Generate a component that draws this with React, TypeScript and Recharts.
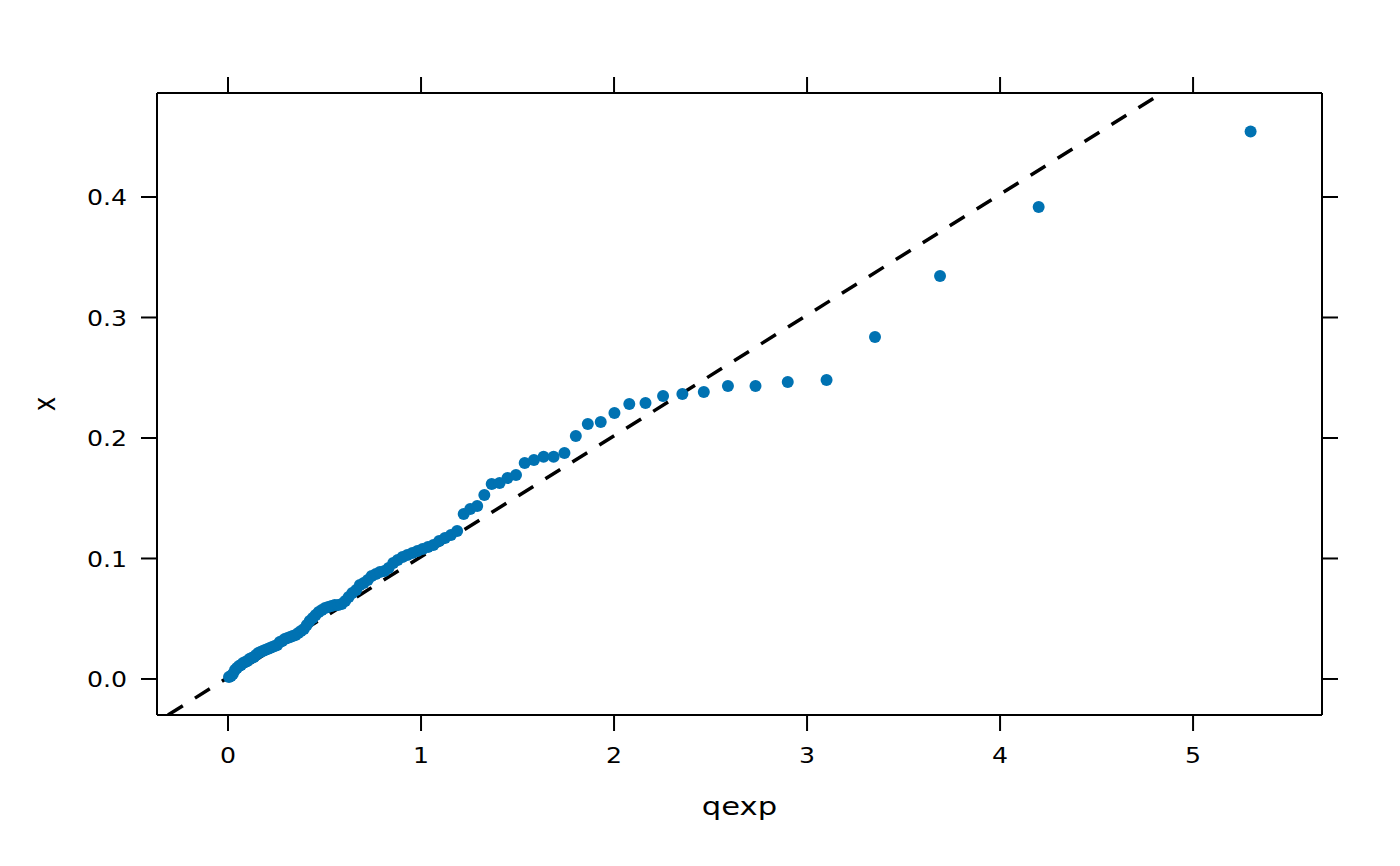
import React from "react";
import { ScatterChart, Scatter, XAxis, YAxis, ReferenceLine } from "recharts";

// theoretical exponential quantiles (qexp) read along the x axis
const qexpValues = [
  0.005, 0.015, 0.025, 0.036, 0.046, 0.057, 0.067, 0.078, 0.089, 0.1,
  0.111, 0.122, 0.134, 0.145, 0.157, 0.168, 0.18, 0.192, 0.205, 0.217,
  0.229, 0.242, 0.255, 0.268, 0.281, 0.294, 0.308, 0.322, 0.335, 0.35,
  0.364, 0.378, 0.393, 0.408, 0.423, 0.439, 0.454, 0.47, 0.486, 0.503,
  0.519, 0.536, 0.553, 0.571, 0.589, 0.607, 0.625, 0.644, 0.664, 0.683,
  0.703, 0.724, 0.744, 0.766, 0.787, 0.81, 0.832, 0.856, 0.879, 0.904,
  0.929, 0.955, 0.981, 1.008, 1.036, 1.064, 1.094, 1.124, 1.155, 1.187,
  1.221, 1.255, 1.291, 1.328, 1.366, 1.407, 1.448, 1.492, 1.537, 1.585,
  1.635, 1.687, 1.743, 1.802, 1.864, 1.931, 2.002, 2.079, 2.163, 2.254,
  2.354, 2.465, 2.59, 2.733, 2.9, 3.101, 3.352, 3.689, 4.2, 5.298,
];

// sorted sample values (x)
const xValues = [
  0.0017, 0.0025, 0.0041, 0.0075, 0.0091, 0.0108, 0.0116, 0.0133, 0.0141, 0.0149,
  0.0166, 0.0174, 0.0183, 0.0199, 0.0216, 0.0224, 0.0232, 0.0241, 0.0249, 0.0257,
  0.0266, 0.0274, 0.0282, 0.0307, 0.0315, 0.0332, 0.034, 0.0349, 0.0357, 0.0365,
  0.0382, 0.0398, 0.0415, 0.0448, 0.0481, 0.0506, 0.0531, 0.0556, 0.0573, 0.0589,
  0.0598, 0.0606, 0.0614, 0.0614, 0.0622, 0.0647, 0.068, 0.0714, 0.0739, 0.078,
  0.0797, 0.0822, 0.0855, 0.0871, 0.0888, 0.0896, 0.0921, 0.0963, 0.0988, 0.1012,
  0.1029, 0.1046, 0.1062, 0.1079, 0.1095, 0.1112, 0.1145, 0.117, 0.1195, 0.1228,
  0.1369, 0.1411, 0.1436, 0.1527, 0.1618, 0.1627, 0.1668, 0.1693, 0.1793, 0.1817,
  0.1845, 0.1845, 0.1876, 0.2017, 0.2116, 0.2133, 0.2207, 0.2282, 0.229, 0.2349,
  0.2365, 0.2382, 0.2432, 0.2432, 0.2465, 0.2481, 0.2838, 0.3344, 0.3917, 0.4544,
];

// reference (qq) line end points, where it meets the panel frame
const qqLine = [
  { x: -0.311, y: -0.0299 },
  { x: 4.839, y: 0.4863 },
];

const xTicks = [0, 1, 2, 3, 4, 5];
const yTicks = [0, 0.1, 0.2, 0.3, 0.4];

const FONT = "DejaVu Sans";
const DOT = "#0072B2";

const points = qexpValues.map((q, i) => ({ q, x: xValues[i] }));

const BottomTick = (props: any) => {
  const { x, y, payload } = props;
  return (
    <g transform={`translate(${x},${y})`}>
      <text x={0} y={32} textAnchor="middle" transform="scale(1.2,1)" fontFamily={FONT} fontSize={21} fill="#000">
        {payload.value}
      </text>
    </g>
  );
};

const LeftTick = (props: any) => {
  const { x, y, payload } = props;
  return (
    <g transform={`translate(${x - 14},${y + 8.5})`}>
      <text x={0} y={0} textAnchor="end" transform="scale(1.2,1)" fontFamily={FONT} fontSize={21} fill="#000">
        {Number(payload.value).toFixed(1)}
      </text>
    </g>
  );
};

const NoLabel = () => <g />;

const XTitle = (props: any) => {
  const vb = props.viewBox;
  return (
    <text
      transform={`translate(${vb.x + vb.width / 2},${vb.y + 100}) scale(1.25,1)`}
      textAnchor="middle"
      fontFamily={FONT}
      fontSize={24.5}
      fill="#000"
    >
      qexp
    </text>
  );
};

const YTitle = (props: any) => {
  const vb = props.viewBox;
  return (
    <text
      transform={`translate(${vb.x - 2},${vb.y + vb.height / 2}) scale(1.25,1) rotate(-90)`}
      textAnchor="middle"
      fontFamily={FONT}
      fontSize={24.5}
      fill="#000"
    >
      x
    </text>
  );
};

const axisStroke = { stroke: "#000", strokeWidth: 2 };

export default function App() {
  return (
    <div style={{ position: "absolute", left: 0, top: 0, width: 1400, height: 866, background: "#fff" }}>
      <ScatterChart width={1400} height={866} margin={{ top: 63, right: 48, bottom: 51, left: 57 }}>
        <XAxis
          xAxisId="b"
          orientation="bottom"
          type="number"
          dataKey="q"
          domain={[-0.368, 5.668]}
          allowDataOverflow
          ticks={xTicks}
          interval={0}
          height={100}
          tickSize={16}
          tickMargin={0}
          axisLine={axisStroke}
          tickLine={axisStroke}
          tick={<BottomTick />}
          label={{ content: XTitle }}
        />
        <XAxis
          xAxisId="t"
          orientation="top"
          type="number"
          dataKey="q"
          domain={[-0.368, 5.668]}
          allowDataOverflow
          ticks={xTicks}
          interval={0}
          height={30}
          tickSize={16}
          axisLine={axisStroke}
          tickLine={axisStroke}
          tick={<NoLabel />}
        />
        <YAxis
          yAxisId="l"
          orientation="left"
          type="number"
          dataKey="x"
          domain={[-0.0299, 0.4863]}
          allowDataOverflow
          ticks={yTicks}
          interval={0}
          width={100}
          tickSize={16}
          tickMargin={0}
          axisLine={axisStroke}
          tickLine={axisStroke}
          tick={<LeftTick />}
          label={{ content: YTitle }}
        />
        <YAxis
          yAxisId="r"
          orientation="right"
          type="number"
          dataKey="x"
          domain={[-0.0299, 0.4863]}
          allowDataOverflow
          ticks={yTicks}
          interval={0}
          width={30}
          tickSize={16}
          axisLine={axisStroke}
          tickLine={axisStroke}
          tick={<NoLabel />}
        />
        <ReferenceLine
          xAxisId="b"
          yAxisId="l"
          segment={qqLine}
          ifOverflow="hidden"
          stroke="#000"
          strokeWidth={3.5}
          strokeDasharray="17.5 14.3"
        />
        {/* invisible series so the top/right frame axes get scales */}
        <Scatter
          xAxisId="t"
          yAxisId="r"
          data={points}
          isAnimationActive={false}
          shape={() => <g />}
        />
        <Scatter
          xAxisId="b"
          yAxisId="l"
          data={points}
          isAnimationActive={false}
          shape={(p: any) => <circle cx={p.cx} cy={p.cy} r={6} fill={DOT} />}
        />
      </ScatterChart>
    </div>
  );
}
